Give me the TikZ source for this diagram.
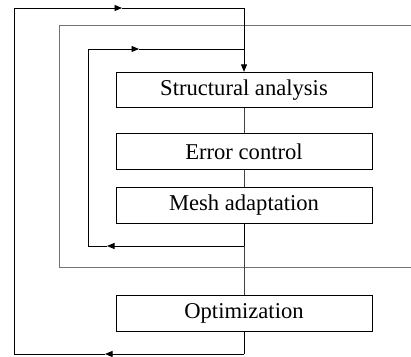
\documentclass[tikz,border=0pt]{standalone}
\usepackage{fontspec}
\setmainfont{Liberation Serif}
\usetikzlibrary{arrows.meta}
\begin{document}
\begin{tikzpicture}[x=1pt,y=1pt,
  blk/.style={draw=black,line width=0.8pt,minimum width=256pt,minimum height=35.5pt,inner sep=0pt,font=\fontsize{22.6}{24}\selectfont},
  loop/.style={draw=black,line width=0.9pt},
  link/.style={draw=black!75,line width=0.9pt},
  frame/.style={draw=black!55,line width=0.9pt},
  tip/.style={-{Triangle[length=7.5pt,width=6pt]}}]
\useasboundingbox (0,0) rectangle (411,356);
% boxes
\node[blk] (sa) at (244,266) {Structural analysis};
\node[blk] (ec) at (244,204.5) {Error control};
\node[blk] (ma) at (244,150.5) {Mesh adaptation};
\node[blk] (op) at (244,42.5) {Optimization};
% coordinates
\coordinate (ob) at (244,2);
\coordinate (obm) at (105,2);
\coordinate (obl) at (14,2);
\coordinate (otl) at (14,348);
\coordinate (otm) at (122,348);
\coordinate (otr) at (244,348);
\coordinate (ib) at (244,110);
\coordinate (ibm) at (107,110);
\coordinate (ibl) at (88,110);
\coordinate (itl) at (88,307);
\coordinate (itm) at (139,307);
\coordinate (itr) at (244,307);
\coordinate (ftr) at (411,331);
\coordinate (ftl) at (59,331);
\coordinate (fbl) at (59,89);
\coordinate (fbr) at (411,89);
% middle frame
\draw[frame] (ftr) -- (ftl) -- (fbl) -- (fbr);
% box links
\draw[link] (sa.south) -- (ec.north);
\draw[link] (ec.south) -- (ma.north);
\draw[link] (ib) -- (op.north);
% inner loop
\draw[loop] (ma.south) -- (ib);
\draw[loop,tip] (ib) -- (ibm);
\draw[loop] (ibm) -- (ibl) -- (itl);
\draw[loop,tip] (itl) -- (itm);
\draw[loop] (itm) -- (itr);
% outer loop
\draw[loop] (op.south) -- (ob);
\draw[loop,tip] (ob) -- (obm);
\draw[loop] (obm) -- (obl) -- (otl);
\draw[loop,tip] (otl) -- (otm);
\draw[loop] (otm) -- (otr);
\draw[loop,tip] (otr) -- (sa.north);
\end{tikzpicture}
\end{document}
